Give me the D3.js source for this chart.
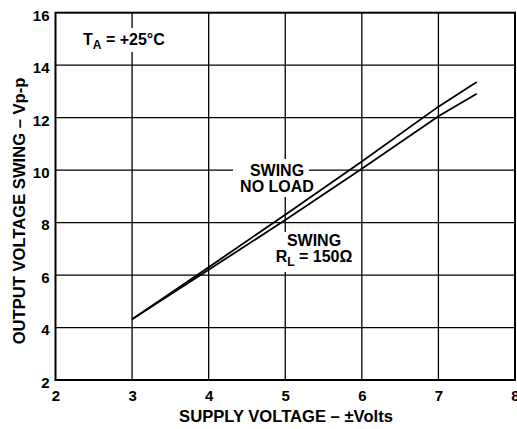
<!DOCTYPE html>
<html><head><meta charset="utf-8">
<script src="https://cdn.jsdelivr.net/npm/d3@7"></script>
<style>body{margin:0;background:#fff}svg{display:block}text{font-family:"Liberation Sans",Arial,Helvetica,sans-serif;font-weight:bold;fill:#000}</style>
</head><body><svg id="c" width="517" height="429"></svg>
<script>
const supply = [3, 4, 5, 6, 7, 7.5];
const swingNoLoad = [4.32, 6.3, 8.3, 10.33, 12.42, 13.36];
const swingRL150 = [4.32, 6.2, 8.1, 10.05, 12.05, 12.91];
const xTicks = [2, 3, 4, 5, 6, 7, 8];
const yTicks = [2, 4, 6, 8, 10, 12, 14, 16];

const svg = d3.select("#c");
const x = d3.scaleLinear().domain([2, 8]).range([55.5, 515]);
const y = d3.scaleLinear().domain([2, 16]).range([380, 12.7]);

// grid
const g = svg.append("g");
g.selectAll(".vx").data(xTicks.slice(1, -1)).join("line")
  .attr("x1", d => x(d)).attr("x2", d => x(d)).attr("y1", y(16)).attr("y2", y(2))
  .attr("stroke", "#000").attr("stroke-width", 1.3);
g.selectAll(".hy").data(yTicks.slice(1, -1)).join("line")
  .attr("y1", d => y(d)).attr("y2", d => y(d)).attr("x1", x(2)).attr("x2", x(8))
  .attr("stroke", "#000").attr("stroke-width", 1.3);

// white label backgrounds
const boxes = [[233, 159, 76, 38], [272, 232, 86, 40], [79, 28, 84, 24]];
svg.selectAll(".bg").data(boxes).join("rect")
  .attr("x", d => d[0]).attr("y", d => d[1]).attr("width", d => d[2]).attr("height", d => d[3])
  .attr("fill", "#fff");

// lines
const line = d3.line().x(d => x(d[0])).y(d => y(d[1]));
[swingNoLoad, swingRL150].forEach(s => {
  svg.append("path").datum(supply.map((v, i) => [v, s[i]]))
    .attr("d", line).attr("fill", "none").attr("stroke", "#000").attr("stroke-width", 1.8);
});

// frame
svg.append("rect").attr("x", x(2)).attr("y", y(16)).attr("width", x(8) - x(2)).attr("height", y(2) - y(16))
  .attr("fill", "none").attr("stroke", "#000").attr("stroke-width", 2);

// axes labels
const xa = d3.axisBottom(x).tickValues(xTicks).tickSize(0).tickPadding(0).tickFormat(d3.format("d"));
const xg = svg.append("g").attr("transform", `translate(0,${y(2)})`).call(xa);
xg.select(".domain").remove();
xg.selectAll("text").attr("dy", null).attr("y", 21).style("font-size", "15px").style("font-family", null);

const ya = d3.axisLeft(y).tickValues(yTicks).tickSize(0).tickPadding(0).tickFormat(d3.format("d"));
const yg = svg.append("g").attr("transform", `translate(49.5,0)`).call(ya);
yg.select(".domain").remove();
yg.selectAll("text").attr("dy", null).attr("y", 7.4).attr("x", 0).style("font-size", "15px").style("font-family", null);

// titles
svg.append("text").attr("x", 286).attr("y", 421.5).attr("text-anchor", "middle").style("font-size", "16.6px")
  .text("SUPPLY VOLTAGE – ±Volts");
svg.append("text").attr("transform", "translate(25,211) rotate(-90)").attr("text-anchor", "middle").style("font-size", "16.6px")
  .text("OUTPUT VOLTAGE SWING – Vp-p");

// annotations
const t = svg.append("text").attr("x", 83).attr("y", 45).style("font-size", "16px");
t.append("tspan").text("T");
t.append("tspan").attr("dy", 4).style("font-size", "12px").text("A");
t.append("tspan").attr("dy", -4).text(" = +25°C");

svg.append("text").attr("x", 277).attr("y", 175.5).attr("text-anchor", "middle").style("font-size", "16px").text("SWING");
svg.append("text").attr("x", 277).attr("y", 192).attr("text-anchor", "middle").style("font-size", "16px").text("NO LOAD");

svg.append("text").attr("x", 314).attr("y", 246).attr("text-anchor", "middle").style("font-size", "16px").text("SWING");
const r = svg.append("text").attr("x", 314).attr("y", 262).attr("text-anchor", "middle").style("font-size", "16px");
r.append("tspan").text("R");
r.append("tspan").attr("dy", 4).style("font-size", "12px").text("L");
r.append("tspan").attr("dy", -4).text(" = 150Ω");
</script></body></html>
